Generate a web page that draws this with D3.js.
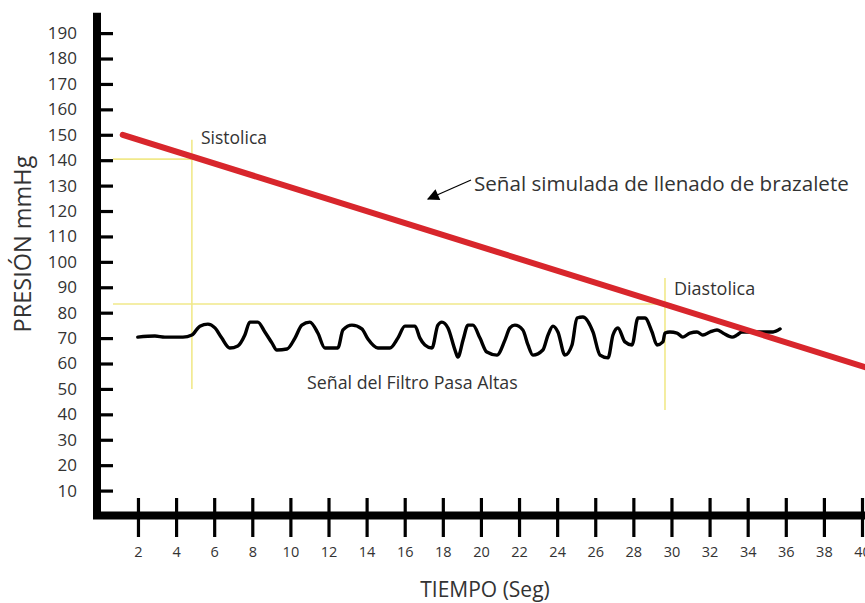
<!DOCTYPE html>
<html><head><meta charset="utf-8">
<script src="https://cdn.jsdelivr.net/npm/d3@7"></script>
<style>body{margin:0;background:#fff}svg{display:block}</style>
</head><body><svg id="c" width="865" height="603"></svg>
<script>
// ---- data ----
const yTickValues = [10,20,30,40,50,60,70,80,90,100,110,120,130,140,150,160,170,180,190];
const xTickValues = [2,4,6,8,10,12,14,16,18,20,22,24,26,28,30,32,34,36,38,40];
const cuffTimes = [1.2, 40.5];
const cuffPressure = [150, 57.8];
const signalTimes = [1.99,2.89,3.41,4.36,4.83,5.25,5.67,6.04,6.40,6.82,7.24,7.61,7.87,8.29,8.66,9.03,9.29,9.82,10.24,10.60,11.02,11.44,11.81,12.49,12.76,13.23,13.75,14.07,14.59,15.22,15.64,16.01,16.54,16.80,17.06,17.43,17.74,17.95,18.27,18.64,18.79,19.06,19.32,19.58,19.95,20.31,20.84,21.26,21.52,21.78,22.20,22.47,22.73,23.25,23.52,23.78,24.04,24.41,24.78,25.04,25.35,25.88,26.25,26.67,26.93,27.19,27.56,27.93,28.24,28.61,28.98,29.24,29.55,29.66,29.92,30.29,30.60,30.97,31.34,31.65,32.02,32.39,32.70,33.18,33.44,33.70,34.28,34.80,35.33,35.70];
const signalValues = [70.4,70.8,70.4,70.4,71.2,74.7,75.5,74.0,70.0,66.1,66.9,71.2,76.3,76.3,72.4,68.1,65.3,65.7,70.0,75.1,76.3,72.0,66.1,66.1,73.2,75.1,73.6,69.6,66.1,66.1,70.0,74.7,74.7,70.0,67.3,66.1,75.1,76.3,74.0,65.3,62.5,69.2,75.1,75.1,70.0,64.5,63.3,69.2,74.0,75.1,73.2,67.3,63.3,65.3,71.2,74.7,72.4,63.3,67.3,77.9,78.3,72.4,63.3,62.2,71.2,74.0,68.5,67.3,77.9,77.9,72.4,67.3,68.5,72.0,72.4,72.0,70.4,72.0,72.4,71.2,72.4,73.2,72.0,70.4,71.2,72.4,72.4,72.4,72.4,73.6];
const markerLabels = ["Sistolica", "Diastolica"];
const markerTimes = [4.83, 29.66];
const markerPressures = [140.4, 83.4];
const markerLow = [50, 41.7];
const markerHigh = [148, 93.6];
const markerHEnd = [5.5, 30.0];
const yTitle = "PRESIÓN mmHg";
const xTitle = "TIEMPO (Seg)";
const cuffLabel = "Señal simulada de llenado de brazalete";
const signalLabel = "Señal del Filtro Pasa Altas";

// ---- chart ----
const svg = d3.select("#c");
svg.append("rect").attr("width",865).attr("height",603).attr("fill","#fff");
const x = d3.scaleLinear().domain([-0.15, 40]).range([97, 862]);
const y = d3.scaleLinear().domain([0, 200]).range([516, 7.7]);
const font = "'Open Sans', 'Noto Sans', sans-serif";
const txt = "#333";

// yellow guide lines
markerTimes.forEach((t,i)=>{
  svg.append("line").attr("x1",113).attr("x2",x(markerHEnd[i]))
    .attr("y1",y(markerPressures[i])).attr("y2",y(markerPressures[i]))
    .attr("stroke","#f1e98a").attr("stroke-width",1.6);
  svg.append("line").attr("x1",x(t)).attr("x2",x(t))
    .attr("y1",y(markerHigh[i])).attr("y2",y(markerLow[i]))
    .attr("stroke","#f1e98a").attr("stroke-width",1.6);
});

// axes
const yAxis = d3.axisLeft(y).tickValues(yTickValues).tickSize(15).tickPadding(5).tickSizeOuter(0);
const gy = svg.append("g").attr("transform",`translate(${x(-0.15)},0)`).call(yAxis);
gy.select(".domain").remove();
gy.selectAll(".tick line").attr("x2",16).attr("stroke","#000").attr("stroke-width",3.2);
gy.selectAll(".tick text").attr("font-family",font).attr("font-size",17).attr("fill",txt);

const xAxis = d3.axisBottom(x).tickValues(xTickValues).tickSize(21.5).tickPadding(10).tickSizeOuter(0);
const gx = svg.append("g").attr("transform",`translate(0,${y(0)-0.5})`).call(xAxis);
gx.select(".domain").remove();
gx.selectAll(".tick line").attr("y1",-17.5).attr("stroke","#000").attr("stroke-width",3.2);
gx.selectAll(".tick text").attr("font-family",font).attr("font-size",14.5).attr("fill",txt);

svg.append("path")
  .attr("d",`M${x(-0.15)},${y(198)}V${y(0)-0.5}H865`)
  .attr("fill","none").attr("stroke","#000").attr("stroke-width",8).attr("stroke-linejoin","miter");

// signal
const sig = signalTimes.map((t,i)=>[t, signalValues[i]]);
svg.append("path").datum(sig)
  .attr("d", d3.line().x(d=>x(d[0])).y(d=>y(d[1])).curve(d3.curveMonotoneX))
  .attr("fill","none").attr("stroke","#000").attr("stroke-width",3.4)
  .attr("stroke-linejoin","round").attr("stroke-linecap","round");

// cuff line
const cuff = cuffTimes.map((t,i)=>[t, cuffPressure[i]]);
svg.append("path").datum(cuff)
  .attr("d", d3.line().x(d=>x(d[0])).y(d=>y(d[1])))
  .attr("fill","none").attr("stroke","#d8262c").attr("stroke-width",6).attr("stroke-linecap","round");

// marker labels
svg.append("text").attr("x",201).attr("y",144).text(markerLabels[0])
  .attr("font-family",font).attr("font-size",17.5).attr("fill",txt);
svg.append("text").attr("x",674).attr("y",295).text(markerLabels[1])
  .attr("font-family",font).attr("font-size",18).attr("fill",txt);

// arrow annotation
svg.append("defs").append("marker").attr("id","ah").attr("viewBox","0 0 10 10")
  .attr("refX",9).attr("refY",5).attr("markerWidth",16).attr("markerHeight",12)
  .attr("markerUnits","userSpaceOnUse").attr("orient","auto")
  .append("path").attr("d","M0,0L10,5L0,10z").attr("fill","#000");
svg.append("line").attr("x1",471).attr("y1",180).attr("x2",428).attr("y2",199)
  .attr("stroke","#000").attr("stroke-width",1.2).attr("marker-end","url(#ah)");
svg.append("text").attr("x",474).attr("y",191).text(cuffLabel)
  .attr("font-family",font).attr("font-size",20.6).attr("fill",txt);
svg.append("text").attr("x",307).attr("y",389).text(signalLabel)
  .attr("font-family",font).attr("font-size",17.8).attr("fill",txt);

// titles
svg.append("text").attr("x",485).attr("y",597).attr("text-anchor","middle").text(xTitle)
  .attr("font-family",font).attr("font-size",21).attr("fill",txt);
svg.append("text").attr("transform","translate(31,244) rotate(-90)").attr("text-anchor","middle").text(yTitle)
  .attr("font-family",font).attr("font-size",23.5).attr("fill",txt);
</script></body></html>
